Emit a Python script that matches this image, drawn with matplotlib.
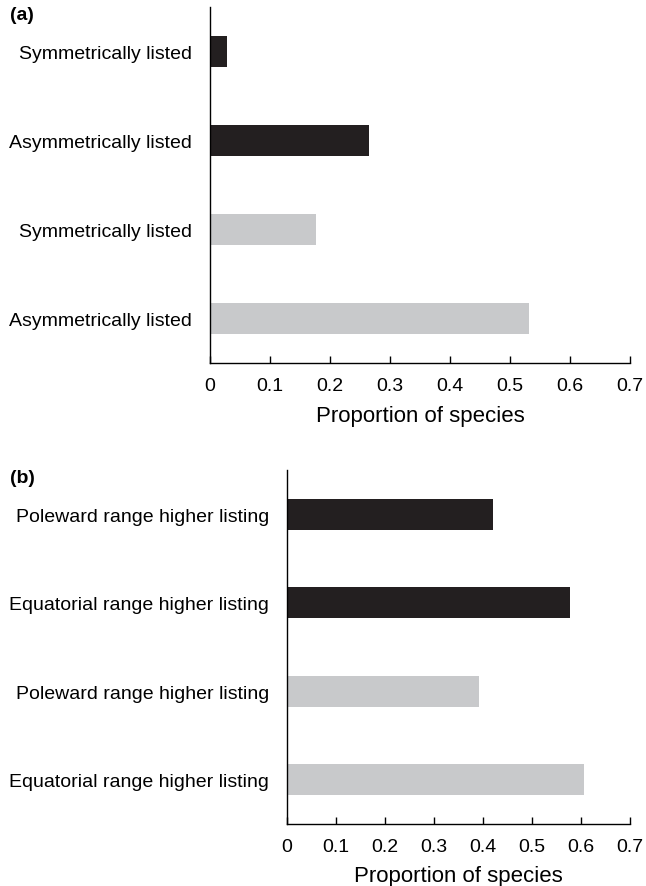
import matplotlib.pyplot as plt

plt.rcParams['font.family'] = ['Liberation Sans', 'DejaVu Sans']

# panel (a)
labels_a = ['Symmetrically listed', 'Asymmetrically listed', 'Symmetrically listed', 'Asymmetrically listed']
values_a = [0.029, 0.265, 0.177, 0.532]
# panel (b)
labels_b = ['Poleward range higher listing', 'Equatorial range higher listing',
            'Poleward range higher listing', 'Equatorial range higher listing']
values_b = [0.421, 0.578, 0.393, 0.606]

colors = ['#231f20', '#231f20', '#c8c9cb', '#c8c9cb']
xticks = [0, 0.1, 0.2, 0.3, 0.4, 0.5, 0.6, 0.7]
xticklabels = ['0', '0.1', '0.2', '0.3', '0.4', '0.5', '0.6', '0.7']

fig = plt.figure(figsize=(6.46, 8.87), dpi=100)

def draw(ax, labels, values, tag, lpad):
    ax.barh(range(len(values)), values, height=0.35, color=colors)
    ax.set_ylim(3.5, -0.5)
    ax.set_xlim(0, 0.7)
    ax.set_yticks(range(len(labels)))
    ax.set_yticklabels(labels, fontsize=14)
    ax.tick_params(axis='y', length=0, pad=13)
    ax.set_xticks(xticks)
    ax.set_xticklabels(xticklabels, fontsize=14)
    ax.tick_params(axis='x', direction='in', length=5, width=1, pad=10)
    ax.spines['top'].set_visible(False)
    ax.spines['right'].set_visible(False)
    ax.spines['left'].set_linewidth(1)
    ax.spines['bottom'].set_linewidth(1)
    ax.set_xlabel('Proportion of species', fontsize=16, labelpad=lpad)
    fig.text(0.015, ax.get_position().y1 - 0.008, tag, fontsize=14, fontweight='bold', va='center')

ax1 = fig.add_axes([0.325, 0.590, 0.650, 0.401])
draw(ax1, labels_a, values_a, '(a)', 8)

ax2 = fig.add_axes([0.444, 0.070, 0.531, 0.399])
draw(ax2, labels_b, values_b, '(b)', 7)

fig.savefig('out.png', dpi=100)
